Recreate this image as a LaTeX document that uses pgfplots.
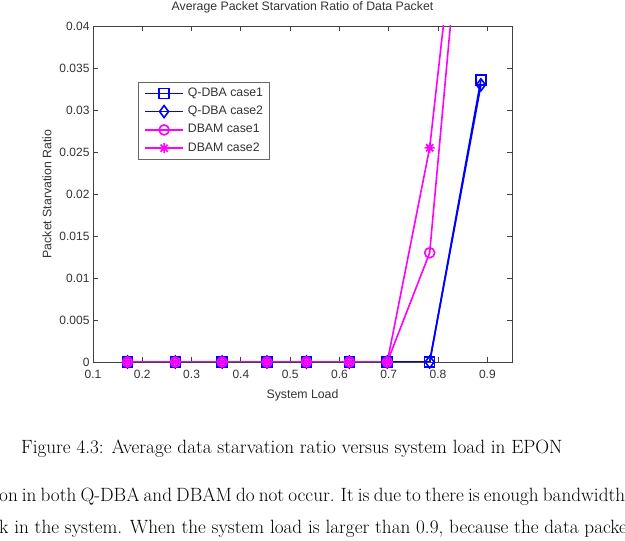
\documentclass[border=0pt]{standalone}
\usepackage{fontspec}
\usepackage{pgfplots}
\usepackage{pgfplotstable}
\pgfplotsset{compat=1.18}
\newfontfamily\arialfont{Liberation Sans}
\definecolor{mblue}{RGB}{0,0,255}
\definecolor{mmag}{RGB}{255,0,255}
\pgfdeclareplotmark{mstar}{%
  \pgfpathmoveto{\pgfpoint{-\pgfplotmarksize}{0pt}}\pgfpathlineto{\pgfpoint{\pgfplotmarksize}{0pt}}%
  \pgfpathmoveto{\pgfpoint{0pt}{-\pgfplotmarksize}}\pgfpathlineto{\pgfpoint{0pt}{\pgfplotmarksize}}%
  \pgfpathmoveto{\pgfpoint{-0.707\pgfplotmarksize}{-0.707\pgfplotmarksize}}\pgfpathlineto{\pgfpoint{0.707\pgfplotmarksize}{0.707\pgfplotmarksize}}%
  \pgfpathmoveto{\pgfpoint{-0.707\pgfplotmarksize}{0.707\pgfplotmarksize}}\pgfpathlineto{\pgfpoint{0.707\pgfplotmarksize}{-0.707\pgfplotmarksize}}%
  \pgfusepathqstroke}
\pgfplotstableread{
load   qdba1   qdba2   dbam1   dbam2
0.170  0       0       0       0
0.267  0       0       0       0
0.362  0       0       0       0
0.453  0       0       0       0
0.533  0       0       0       0
0.620  0       0       0       0
0.697  0       0       0       0
0.783  0       0       0.013   0.0255
0.887  0.0336  0.0330  0.080   0.080
}\datatable
\begin{document}
\begin{tikzpicture}
\useasboundingbox (0,0) rectangle (625pt,541pt);
\clip (0,0) rectangle (625pt,541pt);
\begin{axis}[
  at={(93pt,179pt)}, anchor=south west,
  scale only axis, width=419pt, height=336pt,
  xmin=0.1, xmax=0.95, ymin=0, ymax=0.04,
  xtick={0.1,0.2,...,0.9},
  ytick={0,0.005,...,0.04},
  scaled y ticks=false,
  yticklabel style={/pgf/number format/fixed,/pgf/number format/precision=3},
  xticklabel style={/pgf/number format/fixed,/pgf/number format/precision=1, yshift=-5pt},
  /pgf/number format/assume math mode=true,
  tick align=inside, tick pos=both, major tick length=5pt,
  axis line style={black!75, line width=0.8pt},
  every tick/.style={black!75, line width=0.8pt},
  font=\arialfont\fontsize{12.3pt}{14pt}\selectfont,
  ticklabel style={font=\arialfont\fontsize{12pt}{14pt}\selectfont, text=black!80},
  title={Average Packet Starvation Ratio of Data Packet},
  title style={at={(axis description cs:0.5,1.0387)}, anchor=center, text=black!80},
  xlabel={System Load},
  xlabel style={at={(axis description cs:0.5,-0.098)}, anchor=center, text=black!80},
  ylabel={Packet Starvation Ratio},
  ylabel style={at={(axis description cs:-0.1098,0.5)}, anchor=center, text=black!80},
  legend cell align=left,
  legend style={at={(0.1074,0.8333)}, anchor=north west, draw=black!60, line width=0.6pt,
    fill=white, inner xsep=6pt, inner ysep=5pt, row sep=6.3pt, column sep=4pt,
    nodes={inner sep=0pt, text height=9pt, text depth=3pt, text=black!80,
      font=\arialfont\fontsize{12.3pt}{14pt}\selectfont}},
  legend image code/.code={%
    \draw[mark repeat=2,mark phase=2,#1] plot coordinates {(0pt,0pt) (19pt,0pt) (38pt,0pt)};},
  every axis plot/.append style={line width=1.6pt, mark size=5pt},
]
\addplot[color=mblue, mark=square] table[x=load, y=qdba1] {\datatable};
\addlegendentry{Q-DBA case1}
\addplot[color=mblue, mark=diamond, mark size=6pt] table[x=load, y=qdba2] {\datatable};
\addlegendentry{Q-DBA case2}
\addplot[color=mmag, mark=o] table[x=load, y=dbam1] {\datatable};
\addlegendentry{DBAM case1}
\addplot[color=mmag, mark=mstar] table[x=load, y=dbam2] {\datatable};
\addlegendentry{DBAM case2}
\end{axis}
\fontsize{19.2pt}{23pt}\selectfont
\node[anchor=base west, inner sep=0pt] at (21pt,87pt) {Figure 4.3: Average data starvation ratio versus system load in EPON};
\node[anchor=base west, inner sep=0pt] at (-1pt,39pt) {\spaceskip=0.3em minus 0.2em\xspaceskip=0.4em minus 0.2em\makebox[626pt][s]{on in both Q-DBA and DBAM do not occur. It is due to there is enough bandwidth}};
\node[anchor=base west, inner sep=0pt] at (-1pt,7pt) {k in the system. When the system load is larger than 0.9, because the data packet};
\end{tikzpicture}
\end{document}
